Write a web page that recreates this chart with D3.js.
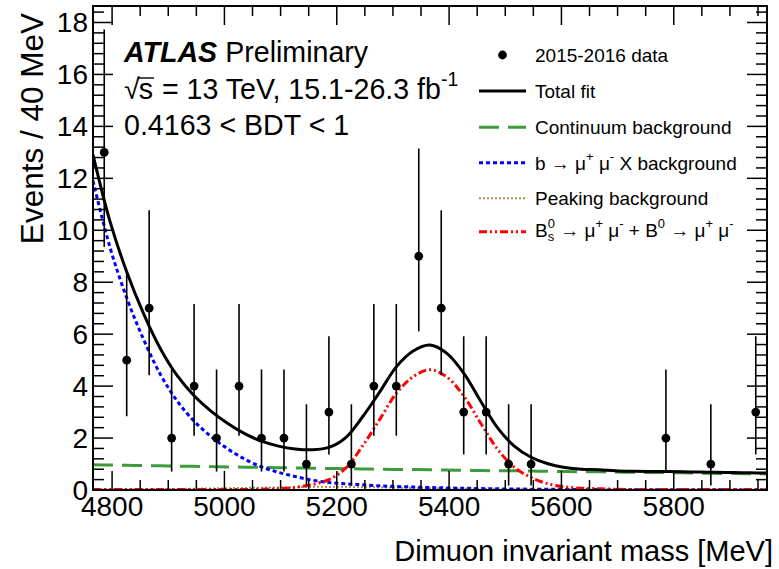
<!DOCTYPE html>
<html>
<head>
<meta charset="utf-8">
<script src="https://cdn.jsdelivr.net/npm/d3@7"></script>
<style>
  html, body { margin: 0; padding: 0; background: #fff; }
  svg { display: block; }
  text { font-family: "Liberation Sans", Arial, Helvetica, sans-serif; fill: #000; }
</style>
</head>
<body>
<svg id="chart" width="779" height="569"></svg>
<script>
// ---------------- data ----------------
const dataMass   = [4786,4826,4866,4906,4946,4986,5026,5066,5106,5146,5186,5226,5266,5306,5346,5386,5426,5466,5506,5546,5786,5866,5946];
const dataCounts = [13,5,7,2,4,2,4,2,2,1,3,1,4,4,9,7,3,3,1,1,2,1,3];
const errLow     = [9.36,2.84,4.42,0.71,2.09,0.71,2.09,0.71,0.71,0.17,1.37,0.17,2.09,2.09,6.11,4.42,1.37,1.37,0.17,0.17,0.71,0.17,1.37];
const errHigh    = [17.73,8.38,10.77,4.64,7.16,4.64,7.16,4.64,4.64,3.30,5.92,3.30,7.16,7.16,13.15,10.77,5.92,5.92,3.30,3.30,4.64,3.30,5.92];

const fitMass    = [4766,4796,4826,4856,4886,4916,4946,4976,5006,5036,5066,5096,5126,5156,5186,5216,5246,5276,5306,5336,5366,5396,5426,5456,5486,5516,5546,5576,5606,5636,5666,5696,5726,5756,5786,5816,5846,5876,5906,5936,5966];
const continuumBkg = [0.97,0.96,0.95,0.94,0.93,0.92,0.91,0.90,0.89,0.88,0.87,0.86,0.85,0.84,0.83,0.82,0.81,0.80,0.79,0.79,0.78,0.77,0.76,0.75,0.74,0.74,0.73,0.72,0.71,0.70,0.70,0.69,0.68,0.67,0.67,0.66,0.65,0.64,0.64,0.63,0.62];
const bMuMuXBkg  = [11.90,9.36,7.40,5.80,4.45,3.42,2.65,2.06,1.58,1.19,0.89,0.68,0.52,0.38,0.29,0.24,0.20,0.16,0.135,0.115,0.095,0.08,0.065,0.055,0.045,0.038,0.032,0.027,0.022,0.018,0.015,0.012,0.010,0.009,0.008,0.007,0.006,0.005,0.005,0.004,0.004];
const peakingBkg = [0.02,0.02,0.03,0.03,0.04,0.04,0.05,0.06,0.07,0.08,0.09,0.10,0.11,0.12,0.12,0.12,0.11,0.10,0.09,0.08,0.07,0.06,0.05,0.04,0.03,0.03,0.02,0.02,0.02,0.01,0.01,0.01,0.01,0.01,0.01,0.01,0.01,0.01,0.01,0.01,0.01];
const signalBs   = [0.02,0.02,0.02,0.02,0.02,0.02,0.02,0.02,0.02,0.02,0.03,0.05,0.10,0.21,0.40,0.84,1.70,2.70,3.72,4.36,4.63,4.35,3.62,2.58,1.58,0.88,0.48,0.24,0.12,0.07,0.05,0.03,0.02,0.02,0.02,0.02,0.02,0.02,0.02,0.02,0.02];
const totalFit   = [12.91,10.36,8.40,6.79,5.44,4.40,3.63,3.04,2.56,2.17,1.88,1.69,1.58,1.55,1.64,2.02,2.82,3.76,4.74,5.35,5.58,5.26,4.50,3.43,2.40,1.69,1.26,1.01,0.87,0.80,0.78,0.74,0.72,0.71,0.71,0.70,0.69,0.68,0.67,0.66,0.65];

const xMajorTicks = [4800,5000,5200,5400,5600,5800];
const yMajorTicks = [0,2,4,6,8,10,12,14,16,18];

// ---------------- layout ----------------
const svg = d3.select("#chart");
const L = 93, R = 767, T = 6, B = 490;
const x = d3.scaleLinear().domain([4766, 5966]).range([L, R]);
const y = d3.scaleLinear().domain([0, 18.635]).range([B, T]);

svg.append("defs").append("clipPath").attr("id","plotclip")
  .append("rect").attr("x", L).attr("y", T).attr("width", R-L).attr("height", B-T);

const plot = svg.append("g").attr("clip-path","url(#plotclip)");

function curve(vals, color, width, dash) {
  const line = d3.line()
    .x((d,i) => x(fitMass[i]))
    .y(d => y(d))
    .curve(d3.curveCatmullRom.alpha(0.5));
  plot.append("path").datum(vals)
    .attr("d", line)
    .attr("fill","none")
    .attr("stroke", color)
    .attr("stroke-width", width)
    .attr("stroke-dasharray", dash || null);
}

const styles = {
  cont:  {c:"#3c9c3c", w:3,   d:"20,9"},
  bmumu: {c:"#0000ff", w:3,   d:"4,3"},
  peak:  {c:"#b58d55", w:2,   d:"2,2"},
  sig:   {c:"#ff0000", w:3,   d:"8,3,2,3,2,3"},
  total: {c:"#000000", w:3,   d:null}
};

curve(continuumBkg, styles.cont.c, styles.cont.w, styles.cont.d);
curve(peakingBkg, styles.peak.c, styles.peak.w, styles.peak.d);
curve(bMuMuXBkg, styles.bmumu.c, styles.bmumu.w, styles.bmumu.d);
curve(signalBs, styles.sig.c, styles.sig.w, styles.sig.d);
curve(totalFit, styles.total.c, styles.total.w, styles.total.d);

// data points
const pts = plot.append("g");
dataMass.forEach((m, i) => {
  pts.append("line")
    .attr("x1", x(m)).attr("x2", x(m))
    .attr("y1", y(errLow[i])).attr("y2", y(errHigh[i]))
    .attr("stroke", "#000").attr("stroke-width", 1.6);
  pts.append("circle")
    .attr("cx", x(m)).attr("cy", y(dataCounts[i])).attr("r", 4.4)
    .attr("fill", "#000");
});

// ---------------- frame & ticks ----------------
const axes = svg.append("g");
axes.append("rect").attr("x", L).attr("y", T).attr("width", R-L).attr("height", B-T)
  .attr("fill","none").attr("stroke","#000").attr("stroke-width", 2);

const xMinor = d3.range(4800, 5966, 50);
xMinor.forEach(v => {
  const major = xMajorTicks.includes(v);
  const len = major ? 19 : 10;
  axes.append("line").attr("x1", x(v)).attr("x2", x(v)).attr("y1", B).attr("y2", B - len)
    .attr("stroke","#000").attr("stroke-width",1.5);
  axes.append("line").attr("x1", x(v)).attr("x2", x(v)).attr("y1", T).attr("y2", T + len)
    .attr("stroke","#000").attr("stroke-width",1.5);
});
const yMinor = d3.range(0, 18.6, 0.4);
yMinor.forEach(v => {
  const major = Math.abs(v/2 - Math.round(v/2)) < 1e-6;
  const len = major ? 20 : 11;
  axes.append("line").attr("x1", L).attr("x2", L + len).attr("y1", y(v)).attr("y2", y(v))
    .attr("stroke","#000").attr("stroke-width",1.5);
  axes.append("line").attr("x1", R).attr("x2", R - len).attr("y1", y(v)).attr("y2", y(v))
    .attr("stroke","#000").attr("stroke-width",1.5);
});

xMajorTicks.forEach(v => {
  axes.append("text").attr("x", x(v)).attr("y", 516).attr("text-anchor","middle")
    .attr("font-size", 28).text(v);
});
yMajorTicks.forEach(v => {
  axes.append("text").attr("x", 88).attr("y", y(v) + 10).attr("text-anchor","end")
    .attr("font-size", 28).text(v);
});

axes.append("text").attr("x", 773).attr("y", 561).attr("text-anchor","end")
  .attr("font-size", 29).text("Dimuon invariant mass [MeV]");
axes.append("text").attr("transform","translate(43,13) rotate(-90)")
  .attr("text-anchor","end").attr("font-size", 31.5).text("Events / 40 MeV");

// ---------------- rich text helper ----------------
function rich(g, x0, yb, parts, size) {
  let cx = x0;
  parts.forEach(p => {
    if (p.sup !== undefined || p.sub !== undefined) {
      let w = 0;
      if (p.sup !== undefined) {
        const t = g.append("text").attr("x", cx).attr("y", yb - size*0.45)
          .attr("font-size", size*0.68).text(p.sup);
        w = Math.max(w, t.node().getComputedTextLength());
      }
      if (p.sub !== undefined) {
        const t = g.append("text").attr("x", cx).attr("y", yb + size*0.25)
          .attr("font-size", size*0.68).text(p.sub);
        w = Math.max(w, t.node().getComputedTextLength());
      }
      cx += w;
    } else {
      const t = g.append("text").attr("x", cx).attr("y", yb)
        .attr("font-size", size).attr("font-weight", p.bold ? "bold" : null)
        .attr("font-style", p.italic ? "italic" : null)
        .style("white-space","pre").attr("xml:space","preserve").text(p.t);
      cx += t.node().getComputedTextLength();
    }
  });
  return cx;
}

// ---------------- ATLAS label ----------------
const lab = svg.append("g");
const FS = 28.6;
rich(lab, 124, 62, [{t:"ATLAS", bold:true, italic:true}, {t:" Preliminary"}], FS);
{
  const g = lab;
  const t1 = g.append("text").attr("x", 124).attr("y", 99).attr("font-size", FS).text("\u221A");
  const w1 = t1.node().getComputedTextLength();
  const t2 = g.append("text").attr("x", 124 + w1 - 1).attr("y", 99).attr("font-size", FS).text("s");
  const w2 = t2.node().getComputedTextLength();
  g.append("line").attr("x1", 124 + w1 - 2).attr("x2", 124 + w1 + w2).attr("y1", 78).attr("y2", 78)
    .attr("stroke","#000").attr("stroke-width",1.4);
  rich(g, 124 + w1 + w2, 99, [{t:" = 13 TeV, 15.1-26.3 fb"}, {sup:"-1"}], FS);
}
rich(lab, 124, 135, [{t:"0.4163 < BDT < 1"}], FS);

// ---------------- legend ----------------
const leg = svg.append("g");
const lx1 = 479, lx2 = 526, tx = 535, fs = 19;
const rows = [55, 91, 127.3, 162.7, 198.3, 231.7];

leg.append("circle").attr("cx", 502.5).attr("cy", rows[0]).attr("r", 4.4).attr("fill","#000");
rich(leg, tx, rows[0] + 7, [{t:"2015-2016 data"}], fs);

function legLine(row, st) {
  leg.append("line").attr("x1", lx1).attr("x2", lx2).attr("y1", row).attr("y2", row)
    .attr("stroke", st.c).attr("stroke-width", st.w).attr("stroke-dasharray", st.d);
}
legLine(rows[1], styles.total);
rich(leg, tx, rows[1] + 7, [{t:"Total fit"}], fs);
legLine(rows[2], styles.cont);
rich(leg, tx, rows[2] + 7, [{t:"Continuum background"}], fs);
legLine(rows[3], styles.bmumu);
rich(leg, tx, rows[3] + 7, [{t:"b \u2192 \u03BC"}, {sup:"+"}, {t:" \u03BC"}, {sup:"-"}, {t:" X background"}], fs);
legLine(rows[4], styles.peak);
rich(leg, tx, rows[4] + 7, [{t:"Peaking background"}], fs);
legLine(rows[5], styles.sig);
rich(leg, tx, rows[5] + 5, [{t:"B"}, {sup:"0", sub:"s"}, {t:" \u2192 \u03BC"}, {sup:"+"}, {t:" \u03BC"}, {sup:"-"},
  {t:" + B"}, {sup:"0"}, {t:" \u2192 \u03BC"}, {sup:"+"}, {t:" \u03BC"}, {sup:"-"}], fs);
</script>
</body>
</html>
